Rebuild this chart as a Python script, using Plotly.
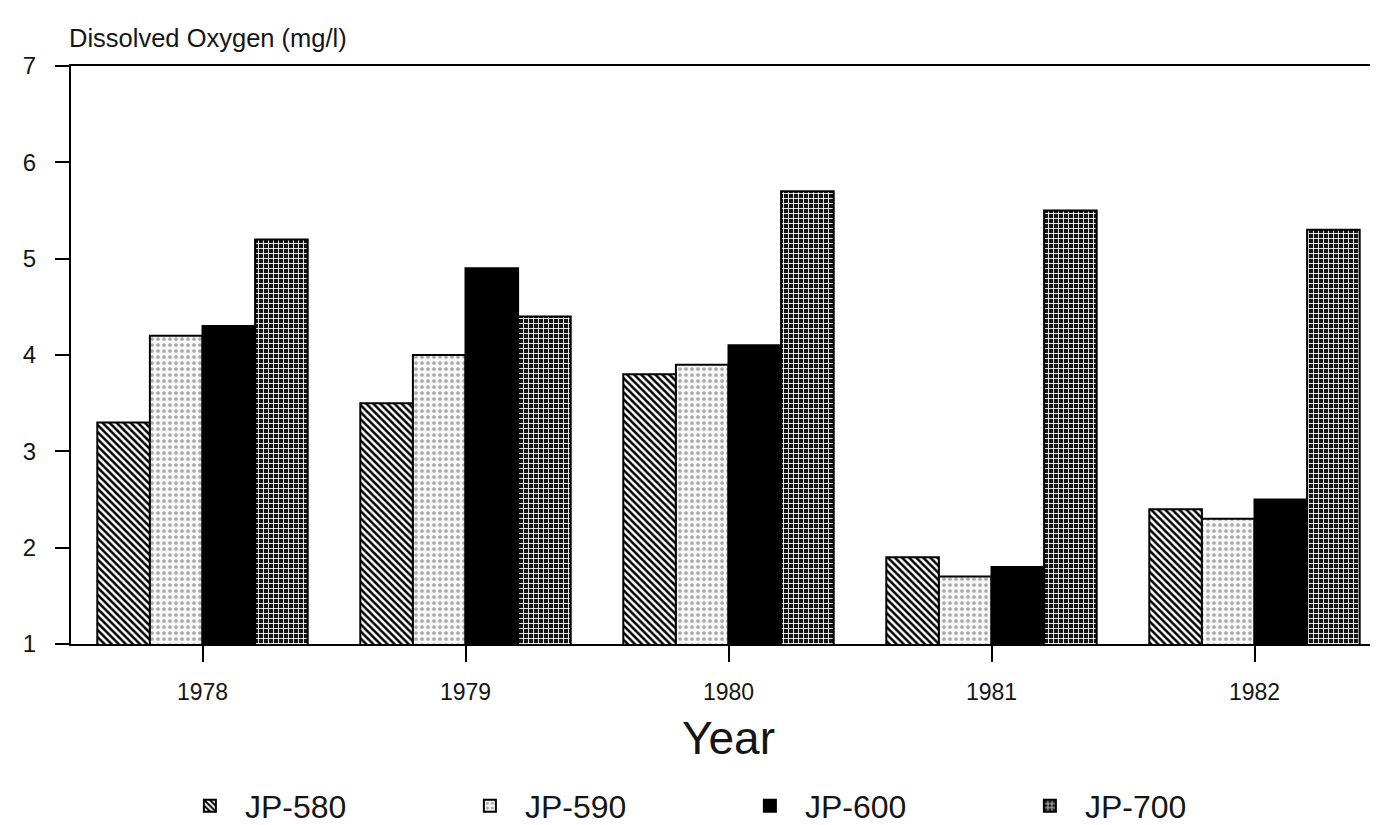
import plotly.graph_objects as go

years = ["1978", "1979", "1980", "1981", "1982"]
jp580 = [3.3, 3.5, 3.8, 1.9, 2.4]
jp590 = [4.2, 4.0, 3.9, 1.7, 2.3]
jp600 = [4.3, 4.9, 4.1, 1.8, 2.5]
jp700 = [5.2, 4.4, 5.7, 5.5, 5.3]

series = [
    ("JP-580", jp580, "white", dict(shape="\\", fgcolor="black", bgcolor="white", size=5,
                                     solidity=0.5, fgopacity=1, fillmode="replace")),
    ("JP-590", jp590, "white", dict(shape=".", fgcolor="#a8a8a8", bgcolor="#f7f7f7", size=6,
                                     solidity=0.3, fgopacity=1, fillmode="replace")),
    ("JP-600", jp600, "black", None),
    ("JP-700", jp700, "#111111", dict(shape="+", fgcolor="white", bgcolor="#151515", size=5,
                                       solidity=0.32, fgopacity=1, fillmode="replace")),
]

FONT = "Liberation Sans, Arial, sans-serif"
fig = go.Figure()
for name, vals, color, pat in series:
    marker = dict(color=color, line=dict(color="black", width=2))
    if pat:
        marker["pattern"] = pat
    fig.add_trace(go.Bar(name=name, x=years, y=vals, base=0, marker=marker))

fig.update_layout(
    template="none",
    width=1378, height=825,
    margin=dict(l=63, r=0, t=58, b=189, autoexpand=False),
    plot_bgcolor="white", paper_bgcolor="white",
    barmode="group", bargap=0.2, bargroupgap=0,
    font=dict(family=FONT, color="#151515", size=23),
    showlegend=True,
    legend=dict(orientation="h", x=0.079, xanchor="left", y=-0.28, yanchor="middle",
                font=dict(size=32), itemwidth=60, entrywidth=205, traceorder="normal",
                bgcolor="rgba(0,0,0,0)"),
    annotations=[dict(text="Dissolved Oxygen (mg/l)", x=0, xref="paper", xanchor="left",
                      y=1, yref="paper", yanchor="bottom", yshift=12, xshift=-4,
                      showarrow=False,
                      font=dict(size=25.5, family=FONT, color="#151515"))],
)
fig.update_xaxes(
    type="category", automargin=False,
    showline=True, linecolor="black", linewidth=2, mirror=True,
    ticks="outside", ticklen=16, tickwidth=2, tickcolor="black",
    tickfont=dict(size=23), ticklabelstandoff=10,
    title=dict(text="Year", font=dict(size=46), standoff=18),
    range=[-0.5, 4.5], showgrid=False, zeroline=False,
)
fig.update_yaxes(
    automargin=False,
    range=[1, 7], dtick=1, tick0=1, showline=True, linecolor="black", linewidth=2,
    ticks="outside", ticklen=14, tickwidth=2, tickcolor="black",
    tickfont=dict(size=24), ticklabelstandoff=14, showgrid=False, zeroline=False,
)
fig.write_html("out.html")
